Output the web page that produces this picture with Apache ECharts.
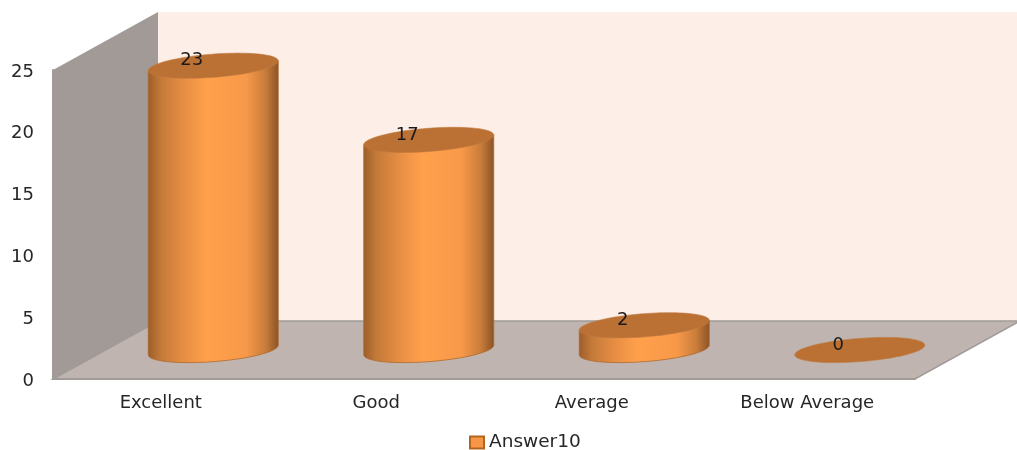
<!DOCTYPE html>
<html>
<head>
<meta charset="utf-8">
<style>html,body{margin:0;padding:0;background:#fff}#c{width:1017px;height:450px}</style>
<script src="https://cdn.jsdelivr.net/npm/echarts@6/dist/echarts.min.js"></script>
</head>
<body>
<div id="c"></div>
<script>
var categories = ['Excellent', 'Good', 'Average', 'Below Average'];
var answer10 = [23, 17, 2, 0];
var seriesName = 'Answer10';

var FONT = '"DejaVu Sans", sans-serif';
var DEPTH_X = 105, DEPTH_Y = -58;
var RX = 65.2, RY = 11.6, TILT = -4.4 * Math.PI / 180;

function ellipsePoint(cx, cy, t) {
  var x = RX * Math.cos(t), y = RY * Math.sin(t);
  return [cx + x * Math.cos(TILT) - y * Math.sin(TILT), cy + x * Math.sin(TILT) + y * Math.cos(TILT)];
}
function ellipsePoints(cx, cy, from, to, n) {
  var pts = [];
  for (var i = 0; i <= n; i++) pts.push(ellipsePoint(cx, cy, from + (to - from) * i / n));
  return pts;
}

var chart = echarts.init(document.getElementById('c'), null, {renderer: 'canvas'});
var bodyGradient = new echarts.graphic.LinearGradient(0, 0, 1, 0, [
  {offset: 0, color: '#9c5d2b'},
  {offset: 0.1, color: '#c47a39'},
  {offset: 0.28, color: '#e88e44'},
  {offset: 0.45, color: '#ffa04b'},
  {offset: 0.75, color: '#f8994a'},
  {offset: 0.9, color: '#c87c3a'},
  {offset: 1, color: '#8a5226'}
]);

chart.setOption({
  animation: false,
  backgroundColor: '#ffffff',
  grid: {left: 53, right: 102, top: 70, bottom: 71},
  legend: {
    data: [seriesName], left: 464, top: 428, itemWidth: 14, itemHeight: 12, itemGap: 6,
    icon: 'rect',
    textStyle: {fontFamily: FONT, fontSize: 18.5, color: '#262626'}
  },
  xAxis: {
    type: 'category', data: categories, z: 4,
    axisLine: {show: true, lineStyle: {color: '#a09a98', width: 2}},
    axisTick: {show: false},
    axisLabel: {fontFamily: FONT, fontSize: 18, color: '#262626', margin: 15}
  },
  yAxis: {
    type: 'value', min: 0, max: 25, interval: 5, z: 4,
    axisLine: {show: true, lineStyle: {color: '#a09a98', width: 2}},
    axisTick: {show: false},
    splitLine: {show: false},
    axisLabel: {fontFamily: FONT, fontSize: 18, color: '#262626', margin: 19, verticalAlign: 'top', lineHeight: 4}
  },
  series: [
    {
      type: 'custom', name: 'walls', z: 1, silent: true,
      data: [[0, 0]],
      renderItem: function (params, api) {
        var x0 = params.coordSys.x, xr = x0 + params.coordSys.width;
        var y0 = params.coordSys.y + params.coordSys.height, yt = params.coordSys.y;
        return {type: 'group', children: [
          {type: 'polygon', shape: {points: [[x0 + DEPTH_X, yt + DEPTH_Y], [xr + DEPTH_X, yt + DEPTH_Y], [xr + DEPTH_X, y0 + DEPTH_Y], [x0 + DEPTH_X, y0 + DEPTH_Y]]}, style: {fill: '#fdeee7'}},
          {type: 'polygon', shape: {points: [[x0, y0], [x0 + DEPTH_X, y0 + DEPTH_Y], [x0 + DEPTH_X, yt + DEPTH_Y], [x0, yt]]}, style: {fill: '#a29a97'}},
          {type: 'polygon', shape: {points: [[x0, y0], [xr, y0], [xr + DEPTH_X, y0 + DEPTH_Y], [x0 + DEPTH_X, y0 + DEPTH_Y]]}, style: {fill: '#bfb4b0', stroke: '#a09a98', lineWidth: 1.5}}
        ]};
      }
    },
    {
      type: 'custom', name: seriesName, z: 3, silent: true,
      itemStyle: {color: '#f79646', borderColor: '#b3661f', borderWidth: 1},
      data: answer10.map(function (v, i) { return [i, v]; }),
      encode: {x: 0, y: 1},
      renderItem: function (params, api) {
        var val = api.value(1);
        var base = api.coord([api.value(0), 0]);
        var top = api.coord([api.value(0), val]);
        var cx = base[0] + DEPTH_X / 2, by = base[1] + DEPTH_Y / 2, ty = top[1] + DEPTH_Y / 2;
        var children = [];
        if (val > 0) {
          var pts = [ellipsePoint(cx, ty, Math.PI), ellipsePoint(cx, ty, 0)].concat(ellipsePoints(cx, by, 0, Math.PI, 48));
          children.push({type: 'polygon', shape: {points: pts}, style: {fill: bodyGradient, stroke: '#b06a2c', lineWidth: 0.8}});
        }
        children.push({type: 'polygon', shape: {points: ellipsePoints(cx, ty, 0, Math.PI * 2, 96)}, style: {fill: '#bb7034', stroke: '#c17a3f', lineWidth: 0.6}});
        children.push({type: 'text', style: {text: String(val), x: base[0] + 31, y: top[1] + DEPTH_Y / 2 - 5, align: 'center', verticalAlign: 'middle', fill: '#1a1a1a', font: '18px ' + FONT}});
        return {type: 'group', children: children};
      }
    }
  ]
});
</script>
</body>
</html>
